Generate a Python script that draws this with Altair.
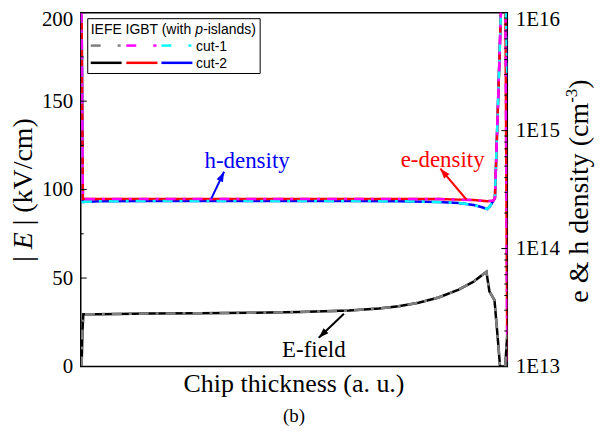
import math
import altair as alt
import pandas as pd

# ---------------- data ----------------
# normalised chip thickness (a. u.)
x_field = [0.002, 0.004, 0.006, 0.044, 0.161, 0.278, 0.395, 0.512, 0.629, 0.699, 0.745,
           0.792, 0.839, 0.886, 0.921, 0.951, 0.958, 0.970, 0.979, 0.983, 0.995, 1.0]
field_cut2 = [0, 20, 29.5, 29.6, 29.9, 30.1, 30.4, 30.8, 31.6, 32.8, 34.0,
              36.0, 39.0, 43.5, 48.0, 53.5, 42.5, 37.5, 12, 0, 0, 18]
field_cut1 = [0, 20, 29.5, 29.6, 29.9, 30.1, 30.4, 30.8, 31.6, 32.8, 34.0,
              36.0, 39.0, 43.5, 48.0, 53.5, 42.5, 37.5, 12, 0, 0, 18]

x_hole = [0.002, 0.005, 0.044, 0.161, 0.278, 0.395, 0.512, 0.629, 0.745, 0.839, 0.886,
          0.921, 0.939, 0.953, 0.960, 0.971, 0.978, 0.985, 0.995, 1.0]
hole_cut2 = [1e16, 2.48e14, 2.52e14, 2.53e14, 2.53e14, 2.53e14, 2.53e14, 2.53e14, 2.52e14,
             2.48e14, 2.43e14, 2.34e14, 2.25e14, 2.16e14, 2.30e14, 2.68e14, 1.6e15, 1e16, 2e16, 2.7e15]
hole_cut1 = [1e16, 2.48e14, 2.52e14, 2.53e14, 2.53e14, 2.53e14, 2.53e14, 2.53e14, 2.52e14,
             2.48e14, 2.43e14, 2.34e14, 2.25e14, 2.16e14, 2.30e14, 2.68e14, 1.6e15, 1e16, 2e16, 2.7e15]

x_elec = [0.002, 0.005, 0.044, 0.278, 0.512, 0.745, 0.839, 0.886, 0.921, 0.953, 0.967,
          0.971, 0.978, 0.985, 0.995, 1.0]
elec_cut2 = [1e16, 2.63e14, 2.63e14, 2.63e14, 2.63e14, 2.63e14, 2.63e14, 2.6e14, 2.58e14,
             2.52e14, 2.55e14, 2.68e14, 1.6e15, 1e16, 3e16, 1.1e13]
elec_cut1 = [1e16, 2.63e14, 2.63e14, 2.63e14, 2.63e14, 2.63e14, 2.63e14, 2.6e14, 2.58e14,
             2.52e14, 2.55e14, 2.68e14, 1.6e15, 1e16, 3e16, 1.1e13]

left_ticks = [0, 50, 100, 150, 200]
left_minor = [25, 75, 125, 175]
right_ticks = [1e13, 1e14, 1e15, 1e16]
right_minor = [m * 10 ** d for d in (13, 14, 15) for m in range(2, 10)]

ann_text = ["h-density", "e-density", "E-field"]
ann_color = ["#0000ff", "#ff0000", "#000000"]
ann_x = [0.290, 0.750, 0.472]
ann_y = [112.4, 112.9, 5.6]
arrow_x0 = [0.306, 0.904, 0.617]
arrow_y0 = [94.9, 94.4, 29.8]
arrow_x1 = [0.336, 0.843, 0.558]
arrow_y1 = [110.1, 111.8, 16.3]

# ---------------- layout ----------------
W, H = 428, 355
SERIF = "Liberation Serif"
SANS = "Liberation Sans"
LW = 2.5
DASH = [10, 7, 3, 7]

xscale = alt.Scale(domain=[0, 1], nice=False, zero=False)
lscale = alt.Scale(domain=[0, 200], nice=False, zero=False)
rscale = alt.Scale(type="log", domain=[1e13, 1e16], nice=False)

left_axis = alt.Axis(orient="left", values=left_ticks, labelFont=SERIF, labelFontSize=21,
                     labelColor="black", ticks=False, tickSize=0, domain=False, grid=False,
                     title=None, labelPadding=8, labelFlush=False, labelOverlap=False,
                     labelOffset={"condition": {"test": "datum.value > 190", "value": 7},
                                  "value": 0})
right_axis = alt.Axis(orient="right", values=right_ticks, labelFont=SERIF, labelFontSize=21,
                      labelColor="black", ticks=False, tickSize=0, domain=False, grid=False,
                      title=None, labelPadding=8, labelFlush=False, labelOverlap=False,
                      labelExpr="'1E' + format(log(datum.value)/LN10, '.0f')",
                      labelOffset={"condition": {"test": "datum.value > 5e15", "value": 7},
                                   "value": 0})

dummy = alt.Data(values=[{"a": 1}])


def line(xs, ys, color, scale, axis, dash=None):
    df = pd.DataFrame({"x": xs, "y": ys})
    kw = dict(color=color, strokeWidth=LW, clip=True)
    if dash is not None:
        kw["strokeDash"] = dash
    return alt.Chart(df).mark_line(**kw).encode(
        x=alt.X("x:Q", scale=xscale, axis=None),
        y=alt.Y("y:Q", scale=scale, axis=axis),
    )


def txt(s, x, y, size, font=SERIF, style="normal", angle=0, align="left",
        baseline="alphabetic", color="black"):
    return alt.Chart(dummy).mark_text(text=s, font=font, fontSize=size, fontStyle=style,
                                      angle=angle, align=align, baseline=baseline,
                                      color=color).encode(x=alt.value(x), y=alt.value(y))


def hrule(x1, x2, y, color, width=LW):
    return alt.Chart(dummy).mark_rule(color=color, strokeWidth=width).encode(
        x=alt.value(x1), x2=alt.value(x2), y=alt.value(y))


# --- density group (right axis) ---
rtick_df = pd.DataFrame({"v": right_ticks})
rminor_df = pd.DataFrame({"v": right_minor})
dens = alt.layer(
    line(x_hole, hole_cut2, "#0000ff", rscale, right_axis),
    line(x_elec, elec_cut2, "#ff0000", rscale, right_axis),
    line(x_hole, hole_cut1, "#00ffff", rscale, right_axis, DASH),
    line(x_elec, elec_cut1, "#ff00ff", rscale, right_axis, DASH),
    alt.Chart(rtick_df).mark_rule(color="black", strokeWidth=1).encode(
        y=alt.Y("v:Q", scale=rscale, axis=right_axis), x=alt.value(W - 6), x2=alt.value(W)),
    alt.Chart(rminor_df).mark_rule(color="black", strokeWidth=1).encode(
        y=alt.Y("v:Q", scale=rscale, axis=right_axis), x=alt.value(W - 3), x2=alt.value(W)),
)

# --- field group (left axis) + decorations ---
ltick_df = pd.DataFrame({"v": left_ticks})
lminor_df = pd.DataFrame({"v": left_minor})

angles = []
for i in range(3):
    dx = (arrow_x1[i] - arrow_x0[i]) * W
    dy = -(arrow_y1[i] - arrow_y0[i]) * H / 200.0
    angles.append(math.degrees(math.atan2(dx, -dy)) % 360)

ann_df = pd.DataFrame({"t": ann_text, "c": ann_color, "x": ann_x, "y": ann_y,
                       "x0": arrow_x0, "y0": arrow_y0, "x1": arrow_x1, "y1": arrow_y1,
                       "ang": angles})

arrow_lines = alt.Chart(ann_df).mark_rule(strokeWidth=2).encode(
    x=alt.X("x0:Q", scale=xscale, axis=None), y=alt.Y("y0:Q", scale=lscale, axis=left_axis),
    x2="x1:Q", y2="y1:Q", color=alt.Color("c:N", scale=None))
arrow_heads = alt.Chart(ann_df).mark_point(
    shape="M0,0 L0.35,1 L-0.35,1 Z", filled=True, size=400, opacity=1).encode(
    x=alt.X("x1:Q", scale=xscale, axis=None), y=alt.Y("y1:Q", scale=lscale, axis=left_axis),
    angle=alt.Angle("ang:Q", scale=None), color=alt.Color("c:N", scale=None))
ann_labels = alt.Chart(ann_df).mark_text(font=SERIF, fontSize=23, align="left",
                                         baseline="alphabetic").encode(
    x=alt.X("x:Q", scale=xscale, axis=None), y=alt.Y("y:Q", scale=lscale, axis=left_axis),
    text="t:N", color=alt.Color("c:N", scale=None))

legend_box = alt.Chart(dummy).mark_rect(fill="white", stroke="black", strokeWidth=1).encode(
    x=alt.value(7), x2=alt.value(180), y=alt.value(6), y2=alt.value(61))

r1, r2 = 33, 50.3
legend_parts = [
    legend_box,
    txt("IEFE IGBT (with", 10, 21, 14, font=SANS),
    txt("p", 115.0, 21, 14, font=SANS, style="italic"),
    txt("-islands)", 122.8, 21, 14, font=SANS),
    hrule(10, 20, r1, "#808080"), hrule(37, 40, r1, "#808080"),
    hrule(45.7, 55.7, r1, "#ff00ff"), hrule(72.7, 76, r1, "#ff00ff"),
    hrule(81, 91, r1, "#00ffff"), hrule(108, 111, r1, "#00ffff"),
    txt("cut-1", 115.7, r1 + 5, 14, font=SANS),
    hrule(10, 41, r2, "#000000"), hrule(45.7, 77, r2, "#ff0000"), hrule(81, 112, r2, "#0000ff"),
    txt("cut-2", 115.7, r2 + 5, 14, font=SANS),
]

titles = [
    # left axis title  | E | (kV/cm)
    txt("|", -49, 250, 28, angle=270),
    txt("E", -49, 237.4, 28, style="italic", angle=270),
    txt("| (kV/cm)", -49, 213.3, 28, angle=270),
    # right axis title  e & h density (cm^-3)
    txt("e & h density (cm", 509, 291, 28, angle=270),
    txt("-3", 498, 90.4, 17, angle=270),
    txt(")", 509, 76.2, 28, angle=270),
    # x title and panel label
    txt("Chip thickness (a. u.)", W / 2, 381, 26, align="center"),
    txt("(b)", W / 2, 411, 19, align="center"),
]

field = alt.layer(
    line(x_field, field_cut2, "#000000", lscale, left_axis),
    line(x_field, field_cut1, "#808080", lscale, left_axis, DASH),
    alt.Chart(ltick_df).mark_rule(color="black", strokeWidth=1).encode(
        y=alt.Y("v:Q", scale=lscale, axis=left_axis), x=alt.value(0), x2=alt.value(6)),
    alt.Chart(lminor_df).mark_rule(color="black", strokeWidth=1).encode(
        y=alt.Y("v:Q", scale=lscale, axis=left_axis), x=alt.value(0), x2=alt.value(3)),
    arrow_lines, arrow_heads, ann_labels,
    *legend_parts,
    *titles,
)

chart = alt.layer(dens, field).resolve_scale(y="independent").properties(
    width=W, height=H,
    autosize=alt.AutoSizeParams(type="none"),
    padding={"left": 73, "top": 4, "right": 89, "bottom": 61},
    background="white",
).configure_view(stroke="black", strokeWidth=1.5)

chart.save("out.html", embed_options={"renderer": "svg", "actions": False})
